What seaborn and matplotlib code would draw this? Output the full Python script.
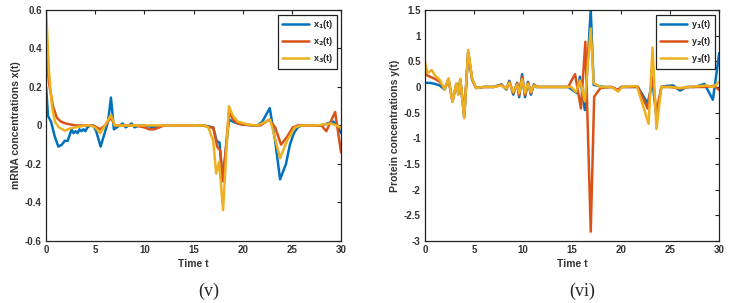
import matplotlib
matplotlib.use("Agg")
import matplotlib.pyplot as plt
import matplotlib.ticker as mticker
import seaborn as sns

# mRNA concentrations (left panel)
t_x1 = [0, 0.2, 0.5, 0.9, 1.25, 1.6, 1.9, 2.2, 2.4, 2.6, 2.8, 3.0, 3.2, 3.4, 3.6, 3.8, 4.0, 4.2, 4.5,
        4.8, 5.1, 5.55, 5.9, 6.3, 6.6, 6.9, 7.2, 7.5, 7.8, 8.1, 8.4, 8.7, 9.0, 9.5, 10, 11, 12, 13, 14,
        15, 16, 17.0, 17.35, 17.65, 17.95, 18.6, 19.0, 19.5, 20, 21, 21.5, 22.0, 22.75, 23.3, 23.8,
        24.1, 24.4, 24.8, 25.2, 25.6, 26, 27, 28, 28.6, 29.25, 29.6, 30]
x1 = [0.20, 0.05, 0.02, -0.06, -0.11, -0.10, -0.08, -0.08, -0.05, -0.02, -0.04, -0.03, -0.04, -0.02,
      -0.03, -0.02, -0.03, -0.01, 0.0, 0.0, -0.03, -0.11, -0.05, 0.02, 0.145, -0.02, -0.01, 0.0, 0.01,
      -0.01, 0.0, 0.01, -0.01, 0.0, 0.0, -0.01, 0.0, 0.0, 0.0, 0.0, 0.0, -0.01, -0.08, -0.09, -0.29,
      0.03, 0.02, 0.01, 0.005, 0.0, 0.0, 0.02, 0.09, -0.08, -0.28, -0.24, -0.2, -0.1, -0.04, -0.01,
      0.0, 0.0, 0.0, 0.01, 0.02, 0.0, -0.04]

t_x2 = [0, 0.3, 0.7, 1.1, 1.5, 2.0, 2.5, 3.0, 3.5, 4.0, 4.5, 5.0, 5.5, 6.0, 6.6, 7.0, 7.5, 8, 9, 10,
        10.5, 11, 11.5, 12, 13, 14, 15, 16, 16.6, 17.0, 17.4, 17.7, 18.0, 18.6, 19.0, 19.5, 20, 21,
        21.8, 22.7, 23.3, 23.9, 24.5, 25.1, 25.6, 26.5, 27.5, 28.0, 28.5, 29.4, 30]
x2 = [0.40, 0.22, 0.1, 0.04, 0.02, 0.01, 0.005, 0.0, 0.0, 0.0, 0.0, -0.005, -0.02, 0.0, 0.04, 0.0,
      0.0, 0.0, 0.0, -0.01, -0.02, -0.02, -0.01, 0.0, 0.0, 0.0, 0.0, 0.0, -0.01, -0.01, -0.11, -0.13,
      -0.29, 0.07, 0.03, 0.01, 0.005, 0.0, 0.0, 0.03, -0.01, -0.1, -0.06, -0.01, 0.0, 0.0, 0.0, 0.0,
      -0.03, 0.07, -0.14]

t_x3 = [0, 0.3, 0.6, 0.9, 1.3, 1.9, 2.5, 3.0, 3.5, 4.0, 4.5, 5.0, 5.5, 6.0, 6.6, 7.0, 8, 9, 10, 11,
        12, 13, 14, 15, 16, 16.5, 17.0, 17.3, 17.6, 18.0, 18.6, 19.0, 19.5, 20.5, 21.5, 22.8, 23.8,
        24.5, 25.3, 26, 27.5, 29.0, 30]
x3 = [0.60, 0.28, 0.1, 0.02, -0.01, -0.027, -0.015, -0.01, -0.005, 0.0, 0.0, -0.01, -0.04, 0.0,
      0.055, 0.0, 0.0, 0.0, 0.0, 0.0, 0.0, 0.0, 0.0, 0.0, 0.0, -0.01, -0.08, -0.25, -0.19, -0.44,
      0.10, 0.05, 0.02, 0.005, 0.0, 0.03, -0.17, -0.08, -0.01, 0.0, 0.0, 0.01, -0.01]

# protein concentrations (right panel)
t_y1 = [0, 0.5, 1.0, 1.5, 2.0, 2.4, 2.8, 3.2, 3.4, 3.6, 4.0, 4.4, 4.8, 5.2, 6, 7, 7.8, 8.3, 8.6,
        9.0, 9.4, 9.6, 9.9, 10.2, 10.5, 10.8, 11.1, 11.4, 12, 13, 14, 14.6, 15.5, 15.8, 16.3, 16.9,
        17.2, 18.2, 19.0, 19.7, 20.0, 21.0, 21.7, 22.7, 23.2, 23.6, 24.1, 24.6, 25.3, 26.0, 26.7,
        27.5, 28.5, 29.35, 30]
y1 = [0.08, 0.08, 0.06, 0.03, -0.05, 0.15, -0.28, 0.06, -0.14, 0.14, -0.58, 0.68, 0.15, -0.02, 0.0,
      0.0, 0.05, -0.05, 0.12, -0.15, 0.08, -0.2, 0.25, -0.2, 0.1, -0.15, 0.05, 0.0, 0.0, 0.0, 0.0,
      0.0, -0.12, 0.2, -0.45, 1.5, 0.04, 0.0, 0.0, -0.06, 0.0, 0.0, 0.0, -0.32, 0.1, -0.6, 0.0, 0.02,
      0.03, -0.07, 0.0, 0.0, 0.06, -0.25, 0.66]

t_y2 = [0, 0.5, 1.0, 1.5, 2.0, 2.4, 2.8, 3.2, 3.4, 3.6, 4.0, 4.4, 4.8, 5.2, 6, 7, 7.8, 8.3, 8.6,
        9.0, 9.4, 9.6, 9.9, 10.2, 10.5, 10.8, 11.1, 11.4, 12, 13, 14, 14.6, 15.3, 15.9, 16.35, 16.9,
        17.25, 17.9, 19.0, 19.7, 20.0, 21.0, 21.7, 22.7, 23.2, 23.6, 24.1, 25.0, 26.0, 27.0, 28.5,
        29.5, 30]
y2 = [0.25, 0.2, 0.16, 0.1, -0.03, 0.15, -0.28, 0.06, -0.14, 0.14, -0.58, 0.68, 0.15, -0.02, 0.0,
      0.0, 0.04, -0.04, 0.1, -0.12, 0.07, -0.16, 0.2, -0.16, 0.08, -0.12, 0.04, 0.0, 0.0, 0.0, 0.0,
      0.0, 0.25, -0.42, 0.88, -2.82, -0.19, -0.02, 0.0, -0.06, 0.0, 0.0, 0.0, -0.42, 0.2, -0.5, 0.0,
      0.0, -0.03, 0.0, 0.0, 0.02, -0.06]

t_y3 = [0, 0.25, 0.7, 1.0, 1.5, 2.0, 2.4, 2.8, 3.2, 3.4, 3.6, 4.0, 4.4, 4.8, 5.2, 6, 7, 7.8, 8.3,
        8.6, 9.0, 9.4, 9.6, 9.9, 10.2, 10.5, 10.8, 11.1, 11.4, 12, 13, 14, 14.9, 15.4, 15.8, 16.3,
        16.9, 17.2, 17.9, 19.0, 19.7, 20.1, 21.6, 22.8, 23.2, 23.6, 24.1, 25, 26, 27, 28.7, 29.4, 30]
y3 = [0.49, 0.27, 0.33, 0.23, 0.14, -0.05, 0.17, -0.29, 0.07, -0.15, 0.16, -0.61, 0.72, 0.17, -0.02,
      0.0, 0.0, 0.03, -0.03, 0.08, -0.1, 0.05, -0.12, 0.15, -0.12, 0.06, -0.1, 0.03, 0.0, 0.0, 0.0,
      0.0, 0.0, -0.1, 0.13, -0.28, 1.14, 0.07, 0.0, 0.0, -0.09, 0.0, 0.02, -0.72, 0.77, -0.82, 0.0,
      0.0, -0.02, 0.0, 0.03, 0.0, 0.1]

colors = ["#0072BD", "#D95319", "#EDB120"]

sns.set_style("white")
plt.rcParams.update({
    "font.family": ["Liberation Sans", "DejaVu Sans"],
    "font.weight": "bold",
    "xtick.direction": "in",
    "ytick.direction": "in",
    "xtick.top": True,
    "ytick.right": True,
    "xtick.major.size": 3,
    "ytick.major.size": 3,
    "xtick.major.width": 0.8,
    "ytick.major.width": 0.8,
})

fig = plt.figure(figsize=(7.43, 3.03), dpi=100)
ax1 = fig.add_axes([0.062, 0.205, 0.397, 0.762])
ax2 = fig.add_axes([0.572, 0.205, 0.396, 0.762])


def draw_panel(ax, series, labels, ylim, ystep, ylabel):
    for (t, v), c, lab in zip(series, colors, labels):
        sns.lineplot(x=t, y=v, ax=ax, color=c, lw=1.8, label=lab, sort=False)
    ax.set_xlim(0, 30)
    ax.set_ylim(*ylim)
    ax.xaxis.set_major_locator(mticker.MultipleLocator(5))
    ax.yaxis.set_major_locator(mticker.MultipleLocator(ystep))
    ax.yaxis.set_major_formatter(mticker.FormatStrFormatter("%g"))
    ax.tick_params(labelsize=7, pad=3, colors="#222222", labelcolor="#333333")
    for s in ax.spines.values():
        s.set_color("#222222")
        s.set_linewidth(0.9)
    ax.set_xlabel("Time t", fontsize=7.5, fontweight="bold", color="#333333", labelpad=3)
    ax.set_ylabel(ylabel, fontsize=7.5, fontweight="bold", color="#333333", labelpad=3)
    leg = ax.legend(loc="upper right", fontsize=6.5, handlelength=3.0, borderaxespad=0.5,
                    labelspacing=0.45, fancybox=False, framealpha=1, handletextpad=0.4,
                    borderpad=0.4)
    leg.get_frame().set_edgecolor("#222222")
    leg.get_frame().set_linewidth(0.9)


draw_panel(ax1, [(t_x1, x1), (t_x2, x2), (t_x3, x3)],
           ["x$_1$(t)", "x$_2$(t)", "x$_3$(t)"], (-0.6, 0.6), 0.2,
           "mRNA concentrations x(t)")
draw_panel(ax2, [(t_y1, y1), (t_y2, y2), (t_y3, y3)],
           ["y$_1$(t)", "y$_2$(t)", "y$_3$(t)"], (-3, 1.5), 0.5,
           "Protein concentrations y(t)")

fig.text(0.281, 0.04, "(v)", ha="center", va="center", fontsize=13,
         family="Liberation Serif", fontweight="normal")
fig.text(0.784, 0.04, "(vi)", ha="center", va="center", fontsize=13,
         family="Liberation Serif", fontweight="normal")

fig.savefig("out.png", dpi=100)
